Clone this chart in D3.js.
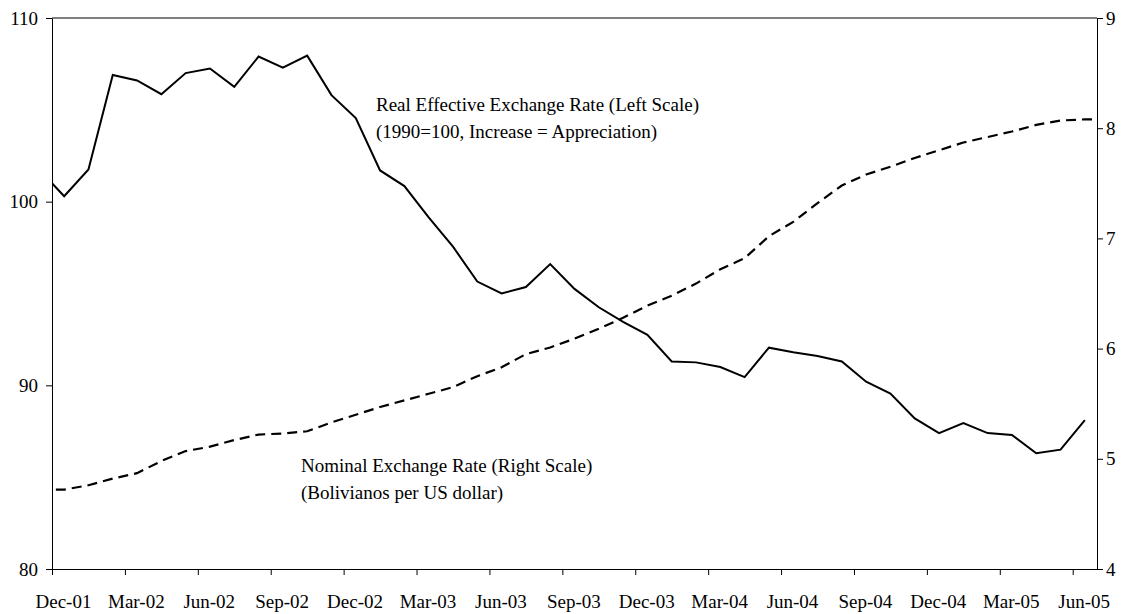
<!DOCTYPE html>
<html>
<head>
<meta charset="utf-8">
<script src="https://cdn.jsdelivr.net/npm/d3@7"></script>
<style>
  body { margin: 0; background: #fff; }
</style>
</head>
<body>
<svg id="chart" width="1125" height="614"></svg>
<script>
// months covered by the data, Nov-01 .. Jul-05 (Nov-01 and Jul-05 sit just outside the axis)
const months = [
    "Nov-01", "Dec-01",
    "Jan-02", "Feb-02", "Mar-02", "Apr-02", "May-02", "Jun-02", "Jul-02", "Aug-02", "Sep-02", "Oct-02", "Nov-02", "Dec-02",
    "Jan-03", "Feb-03", "Mar-03", "Apr-03", "May-03", "Jun-03", "Jul-03", "Aug-03", "Sep-03", "Oct-03", "Nov-03", "Dec-03",
    "Jan-04", "Feb-04", "Mar-04", "Apr-04", "May-04", "Jun-04", "Jul-04", "Aug-04", "Sep-04", "Oct-04", "Nov-04", "Dec-04",
    "Jan-05", "Feb-05", "Mar-05", "Apr-05", "May-05", "Jun-05", "Jul-05"
]

// real effective exchange rate, 1990=100 (left scale), Nov-01 .. Jun-05
const realRate = [
    101.7, 100.3,
    101.75, 106.9, 106.6, 105.85, 107.0, 107.25, 106.25, 107.9, 107.3, 107.95, 105.8, 104.55,
    101.7, 100.85, 99.15, 97.55, 95.65, 95.0, 95.35, 96.6, 95.25, 94.25, 93.45, 92.75,
    91.3, 91.25, 91.0, 90.45, 92.05, 91.8, 91.6, 91.3, 90.2, 89.55, 88.2, 87.4,
    87.95, 87.4, 87.3, 86.3, 86.5, 88.1
]

// nominal exchange rate, bolivianos per US dollar (right scale), Nov-01 .. Jul-05
const nominalRate = [
    4.72, 4.72,
    4.76, 4.82, 4.87, 4.98, 5.07, 5.11, 5.17, 5.22, 5.23, 5.25, 5.33, 5.40,
    5.47, 5.53, 5.59, 5.65, 5.75, 5.83, 5.95, 6.01, 6.09, 6.18, 6.28, 6.39,
    6.48, 6.59, 6.72, 6.82, 7.02, 7.15, 7.32, 7.48, 7.58, 7.65, 7.73, 7.80,
    7.87, 7.92, 7.97, 8.03, 8.07, 8.08, 8.08
]

// axis ticks: month offsets from Dec-01 and their labels
const tickMonths = [0, 3, 6, 9, 12, 15, 18, 21, 24, 27, 30, 33, 36, 39, 42]
const tickLabels = ["Dec-01", "Mar-02", "Jun-02", "Sep-02", "Dec-02", "Mar-03", "Jun-03", "Sep-03",
    "Dec-03", "Mar-04", "Jun-04", "Sep-04", "Dec-04", "Mar-05", "Jun-05"]
const leftTicks = [80, 90, 100, 110]
const rightTicks = [4, 5, 6, 7, 8, 9]

const FONT = "Liberation Serif"
const MARGINS = {top: 18, right: 28, bottom: 45, left: 52}
const W = 1125, H = 614
const w = W - MARGINS.left - MARGINS.right
const h = H - MARGINS.top - MARGINS.bottom

let svg = d3.select("#chart")
let g = svg.append("g")
    .attr("transform", `translate(${MARGINS.left},${MARGINS.top})`)

// month index 0 = start of Dec-01, 43 = start of Jul-05
let x = d3.scaleLinear().domain([0, 43]).range([0, w])
let yLeft = d3.scaleLinear().domain([80, 110]).range([h, 0])
let yRight = d3.scaleLinear().domain([4, 9]).range([h, 0])

// data points sit in the middle of their month; months[1] is Dec-01
let pos = i => x(i - 1 + 0.5)

g.append("clipPath").attr("id", "plot-clip")
    .append("rect").attr("width", w).attr("height", h)

let lines = g.append("g").attr("clip-path", "url(#plot-clip)")

lines.append("path")
    .datum(nominalRate)
    .attr("fill", "none")
    .attr("stroke", "#000")
    .attr("stroke-width", 2.2)
    .attr("stroke-dasharray", "10,6")
    .attr("d", d3.line().x((d, i) => pos(i)).y(d => yRight(d)))

lines.append("path")
    .datum(realRate)
    .attr("fill", "none")
    .attr("stroke", "#000")
    .attr("stroke-width", 2)
    .attr("d", d3.line().x((d, i) => pos(i)).y(d => yLeft(d)))

// top frame line
g.append("line")
    .attr("x1", 0).attr("x2", w)
    .attr("y1", 0).attr("y2", 0)
    .attr("stroke", "#000")

let styleAxis = sel => {
    sel.attr("font-family", null).attr("font-size", null)
    sel.select(".domain").attr("stroke", "#000")
    sel.selectAll(".tick line").attr("stroke", "#000")
    sel.selectAll(".tick text")
        .attr("fill", "#000")
        .style("font-family", FONT)
        .style("font-size", "19px")
}

g.append("g")
    .attr("transform", `translate(0,${h})`)
    .call(d3.axisBottom(x)
        .tickValues(tickMonths)
        .tickFormat((d, i) => tickLabels[i])
        .tickSize(6)
        .tickSizeOuter(0)
        .tickPadding(20))
    .call(styleAxis)
    .call(a => a.selectAll(".tick text").attr("dx", x(0.45) - x(0)))

g.append("g")
    .call(d3.axisLeft(yLeft)
        .tickValues(leftTicks)
        .tickSize(6)
        .tickSizeOuter(0)
        .tickPadding(8))
    .call(styleAxis)

g.append("g")
    .attr("transform", `translate(${w},0)`)
    .call(d3.axisRight(yRight)
        .tickValues(rightTicks)
        .tickFormat(d3.format("d"))
        .tickSize(6)
        .tickSizeOuter(0)
        .tickPadding(3))
    .call(styleAxis)

// in-chart labels for the two series
let notes = [
    {x: 376, y: 111, lines: ["Real Effective Exchange Rate (Left Scale)", "(1990=100, Increase = Appreciation)"]},
    {x: 301, y: 472, lines: ["Nominal Exchange Rate (Right Scale)", "(Bolivianos per US dollar)"]}
]
notes.forEach(n => {
    let t = svg.append("text")
        .attr("x", n.x).attr("y", n.y)
        .style("font-family", FONT)
        .style("font-size", "19px")
    n.lines.forEach((s, i) => {
        t.append("tspan")
            .attr("x", n.x)
            .attr("dy", i === 0 ? 0 : 27)
            .style("font-family", FONT)
            .text(s)
    })
})
</script>
</body>
</html>
